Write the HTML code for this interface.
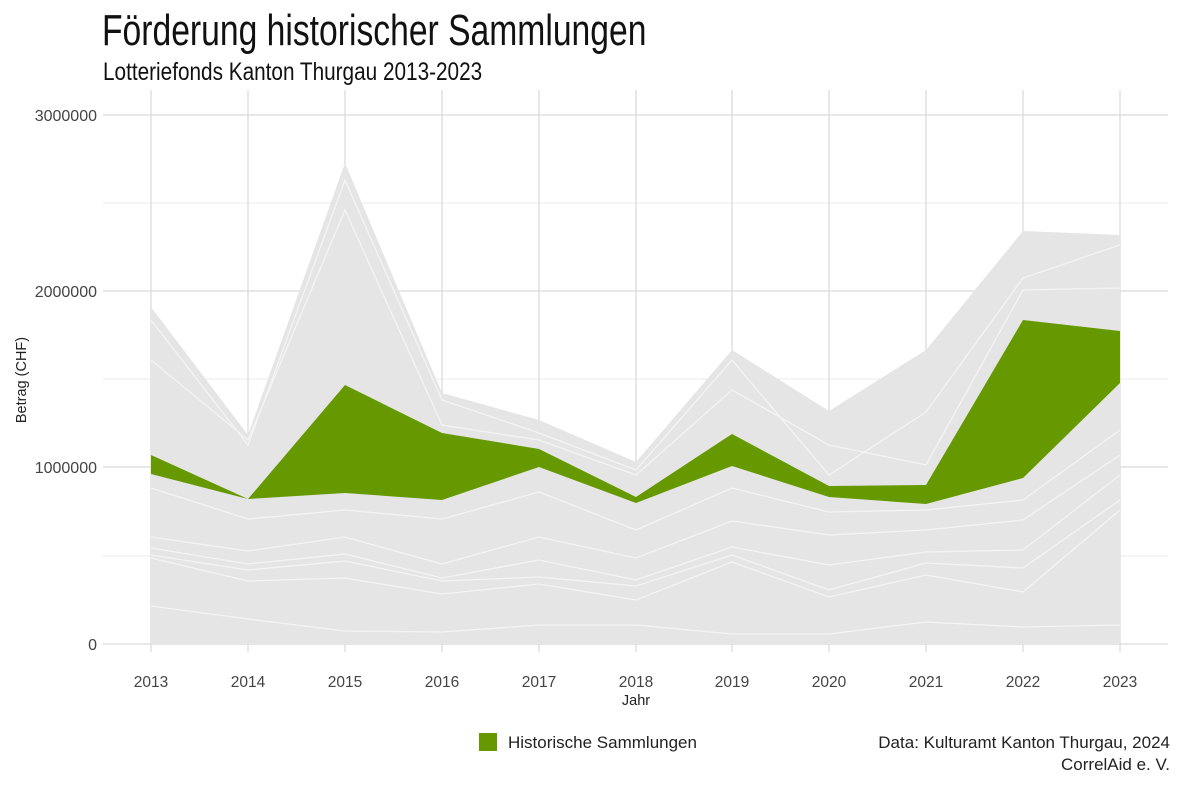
<!DOCTYPE html><html><head><meta charset="utf-8"><style>
body{margin:0;background:#fff;width:1186px;height:790px;overflow:hidden;font-family:"Liberation Sans",sans-serif}
.t{position:absolute;left:102px;top:6px;font-size:44px;color:#111;transform:scaleX(0.765);transform-origin:left top;white-space:nowrap}
.s{position:absolute;left:103px;top:58px;font-size:25px;color:#111;transform:scaleX(0.83);transform-origin:left top;white-space:nowrap}
</style></head><body>
<div class="t">Förderung historischer Sammlungen</div>
<div class="s">Lotteriefonds Kanton Thurgau 2013-2023</div>
<svg width="1186" height="790" style="position:absolute;left:0;top:0" font-family="Liberation Sans, sans-serif">
<g stroke="#ebebeb" stroke-width="1">
<line x1="103" x2="1168" y1="203" y2="203"/><line x1="103" x2="1168" y1="379" y2="379"/><line x1="103" x2="1168" y1="556" y2="556"/>
</g>
<g stroke="#d9d9d9" stroke-width="1.2">
<line x1="103" x2="1168" y1="115" y2="115"/><line x1="103" x2="1168" y1="291" y2="291"/><line x1="103" x2="1168" y1="467" y2="467"/><line x1="103" x2="1168" y1="644" y2="644"/>
<line x1="151" x2="151" y1="90" y2="652"/><line x1="248" x2="248" y1="90" y2="652"/><line x1="345" x2="345" y1="90" y2="652"/><line x1="442" x2="442" y1="90" y2="652"/><line x1="539" x2="539" y1="90" y2="652"/><line x1="636" x2="636" y1="90" y2="652"/><line x1="732" x2="732" y1="90" y2="652"/><line x1="829" x2="829" y1="90" y2="652"/><line x1="926" x2="926" y1="90" y2="652"/><line x1="1023" x2="1023" y1="90" y2="652"/><line x1="1120" x2="1120" y1="90" y2="652"/>
</g>
<polygon fill="#e5e5e5" points="151,644 151,307 248,435 345,163 442,393 539,420 636,462 732,350 829,411 926,350 1023,231 1120,235 1120,644"/>
<polygon fill="#669900" points="151,455 248,499 345,385 442,433 539,449 636,497 732,434 829,486 926,485 1023,320 1120,331 1120,383 1023,478 926,504 829,497 732,466 636,503 539,467 442,500 345,493 248,499 151,474"/>
<g fill="none" stroke="#f4f4f4" stroke-width="1.3">
<polyline points="151,488 248,519 345,510 442,519 539,492 636,530 732,488 829,512 926,510 1023,500 1120,430"/>
<polyline points="151,537 248,551 345,537 442,564 539,537 636,558 732,521 829,535 926,530 1023,520 1120,455"/>
<polyline points="151,548 248,564 345,554 442,578 539,560 636,580 732,547 829,565 926,552 1023,550 1120,475"/>
<polyline points="151,555 248,570 345,561 442,581 539,577 636,586 732,555 829,590 926,563 1023,568 1120,500"/>
<polyline points="151,558 248,581 345,578 442,594 539,584 636,600 732,562 829,597 926,575 1023,592 1120,510"/>
<polyline points="151,606 248,619 345,631 442,632 539,625 636,625 732,634 829,634 926,622 1023,627 1120,625"/>
<polyline points="151,360 248,440 345,210 442,425 539,440 636,475 732,390 829,445 926,465 1023,290 1120,288"/>
<polyline points="151,320 248,445 345,180 442,400 539,433 636,470 732,360 829,475 926,412 1023,278 1120,245"/>
</g>
<g font-size="16" fill="#444" text-anchor="end">
<text x="97" y="121">3000000</text><text x="97" y="297">2000000</text><text x="97" y="473">1000000</text><text x="97" y="650">0</text>
</g>
<g font-size="15.5" fill="#444" text-anchor="middle">
<text x="151" y="687">2013</text><text x="248" y="687">2014</text><text x="345" y="687">2015</text><text x="442" y="687">2016</text><text x="539" y="687">2017</text><text x="636" y="687">2018</text><text x="732" y="687">2019</text><text x="829" y="687">2020</text><text x="926" y="687">2021</text><text x="1023" y="687">2022</text><text x="1120" y="687">2023</text>
<text x="636" y="705" font-size="14.5" fill="#222">Jahr</text>
<text transform="translate(26,380) rotate(-90)" font-size="14.5" fill="#222">Betrag (CHF)</text>
</g>
<rect x="479" y="733" width="18" height="18" fill="#669900"/>
<text x="508" y="748" font-size="17" fill="#222">Historische Sammlungen</text>
<text x="1170" y="748" font-size="17" fill="#222" text-anchor="end">Data: Kulturamt Kanton Thurgau, 2024</text>
<text x="1170" y="770" font-size="17" fill="#222" text-anchor="end">CorrelAid e. V.</text>
</svg>
</body></html>
